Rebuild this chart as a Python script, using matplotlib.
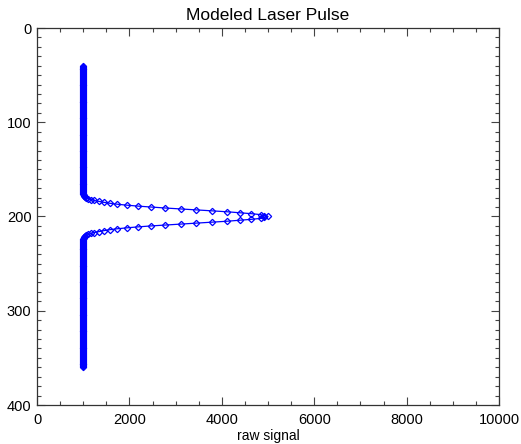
import numpy as np
import matplotlib
matplotlib.use("Agg")
import matplotlib.pyplot as plt
from matplotlib.ticker import MultipleLocator

plt.rcParams["font.family"] = ["Liberation Sans", "DejaVu Sans"]

# depth samples (one per unit, 40..360)
depth = np.arange(40, 361)

# flat baseline either side of the pulse
baseline_top = [1000] * 136      # depth 40..175
baseline_bottom = [1000] * 136   # depth 225..360

# pulse: depth 176..224, peak at 200
pulse_half = [1005, 1015, 1025, 1040, 1070, 1110, 1160, 1240, 1340, 1450,
              1580, 1740, 1950, 2190, 2470, 2780, 3110, 3450, 3790, 4120,
              4390, 4640, 4840, 4920]
pulse_peak = [5000]
pulse = pulse_half + pulse_peak + pulse_half[::-1]

signal = np.array(baseline_top + pulse + baseline_bottom)

fig = plt.figure(figsize=(5.21, 4.44), dpi=100)
ax = fig.add_axes([37 / 521, 39 / 444, 462 / 521, 377 / 444])

ax.plot(signal, depth, color="#0000ff", lw=0.9, marker="D", markersize=3.2,
        mfc="none", mec="#0000ff", mew=0.9)

ax.set_xlim(0, 10000)
ax.set_ylim(400, 0)
ax.xaxis.set_major_locator(MultipleLocator(2000))
ax.xaxis.set_minor_locator(MultipleLocator(500))
ax.yaxis.set_major_locator(MultipleLocator(100))
ax.yaxis.set_minor_locator(MultipleLocator(10))
ax.tick_params(which="both", direction="in", top=True, right=True,
               color="#444444", labelsize=10.5)
ax.tick_params(which="major", length=6, width=0.8)
ax.tick_params(which="minor", length=3, width=0.8)
ax.tick_params(axis="x", pad=6)
ax.tick_params(axis="y", pad=4)
for sp in ax.spines.values():
    sp.set_color("#333333")
    sp.set_linewidth(0.9)

ax.set_xlabel("raw signal", fontsize=10, labelpad=1)
ax.set_title("Modeled Laser Pulse", fontsize=12.5, pad=6)

fig.savefig("out.png", dpi=100)
